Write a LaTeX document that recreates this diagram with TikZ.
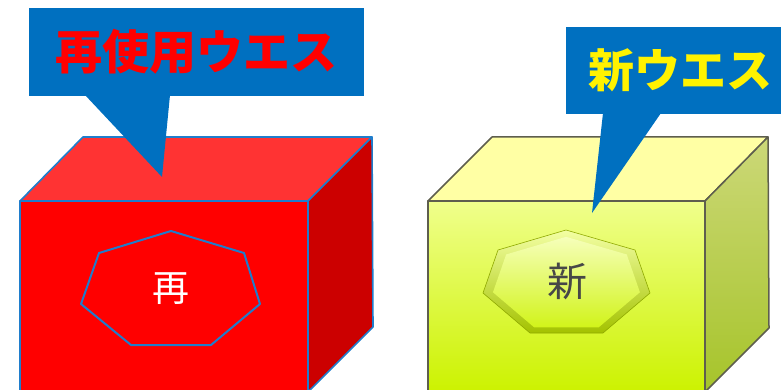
\documentclass[tikz,border=0pt]{standalone}
\usepackage{fontspec}
\newfontfamily\jpfont{Noto Sans CJK JP}
\usetikzlibrary{calc}
\definecolor{callblue}{HTML}{0070C0}
\definecolor{edgeblue}{HTML}{1F7DCC}
\definecolor{redtop}{HTML}{FF3333}
\definecolor{redfront}{HTML}{FF0000}
\definecolor{redside}{HTML}{CC0000}
\definecolor{ylwtop}{HTML}{FFFFA4}
\definecolor{ylwfronttop}{HTML}{F0FF8C}
\definecolor{ylwfrontbot}{HTML}{CCF200}
\definecolor{ylwsidetop}{HTML}{CCD878}
\definecolor{ylwsidebot}{HTML}{A6C42A}
\definecolor{ylwedge}{HTML}{5E5E4E}
\tikzset{
  redface/.style={draw=edgeblue, line width=1.6pt, line join=round},
  ylwface/.style={draw=ylwedge, line width=1.5pt, line join=round},
  callout/.style={fill=callblue, inner sep=0pt},
  calltext/.style={font=\jpfont\bfseries\fontsize{47}{47}\selectfont},
  marktext/.style={font=\jpfont\fontsize{37}{37}\selectfont}
}
\begin{document}
\begin{tikzpicture}[x=1pt,y=-1pt]
  \useasboundingbox (0,0) rectangle (781,390);
  \clip (0,0) rectangle (781,390);
  % red box
  \coordinate (L0_0) at (20,201);
  \coordinate (L0_1) at (308,201);
  \coordinate (L1_0) at (20,392);
  \coordinate (L1_1) at (308,392);
  \coordinate (L2_0) at (83,137);
  \coordinate (L2_1) at (372,137);
  \coordinate (L3_1) at (373,327);
  \path[redface, fill=redtop] (L0_0) -- (L2_0) -- (L2_1) -- (L0_1) -- cycle;
  \path[redface, fill=redside] (L0_1) -- (L2_1) -- (L3_1) -- (L1_1) -- cycle;
  \path[redface, fill=redfront] (L0_0) rectangle (L1_1);
  \path[redface, line width=2pt] (171,231) -- (99,253) -- (81,304) -- (131,345)
    -- (211,345) -- (260,304) -- (244,253) -- cycle;
  \node[marktext, text=white] (Lmark) at (171,289) {再};
  % yellow box
  \coordinate (R0_0) at (428,201);
  \coordinate (R0_1) at (705,201);
  \coordinate (R1_0) at (428,392);
  \coordinate (R1_1) at (705,392);
  \coordinate (R2_0) at (492,137);
  \coordinate (R2_1) at (768,137);
  \coordinate (R3_1) at (769,328);
  \path[ylwface, fill=ylwtop] (R0_0) -- (R2_0) -- (R2_1) -- (R0_1) -- cycle;
  \path[ylwface, top color=ylwsidetop, bottom color=ylwsidebot]
    (R0_1) -- (R2_1) -- (R3_1) -- (R1_1) -- cycle;
  \path[ylwface, top color=ylwfronttop, bottom color=ylwfrontbot]
    (R0_0) rectangle (R1_1);
  \coordinate (Rc) at (566,287);
  \path[top color=ylwfronttop!80!white, bottom color=ylwfrontbot!80!black,
    draw=ylwfrontbot!70!black, line width=0.6pt]
    (566,230) coordinate (H1) -- (498,250) coordinate (H2)
    -- (483,293) coordinate (H3) -- (530,333) coordinate (H4)
    -- (603,333) coordinate (H5) -- (650,293) coordinate (H6)
    -- (635,250) coordinate (H7) -- cycle;
  \path[top color=ylwfronttop!60!white, bottom color=ylwfrontbot!90!white]
    ($(Rc)!0.88!(H1)$) -- ($(Rc)!0.88!(H2)$) -- ($(Rc)!0.88!(H3)$)
    -- ($(Rc)!0.88!(H4)$) -- ($(Rc)!0.88!(H5)$) -- ($(Rc)!0.88!(H6)$)
    -- ($(Rc)!0.88!(H7)$) -- cycle;
  \node[marktext, text=black!72, font=\jpfont\fontsize{40}{40}\selectfont]
    (Rmark) at (567,281) {新};
  % callouts
  \coordinate (Ltip) at (162,177);
  \coordinate (Rtip) at (592,213);
  \fill[callblue] (85,95) -- (Ltip) -- (170,95) -- cycle;
  \fill[callblue] (603,113) -- (Rtip) -- (661,113) -- cycle;
  \node[callout, minimum width=335pt, minimum height=88pt,
    calltext, text=red] (Lcall) at (196.5,52) {再使用ウエス};
  \node[callout, minimum width=229pt, minimum height=87pt,
    calltext, text=yellow, font=\jpfont\bfseries\fontsize{46}{46}\selectfont]
    (Rcall) at (680.5,70.5) {新ウエス};
\end{tikzpicture}
\end{document}
